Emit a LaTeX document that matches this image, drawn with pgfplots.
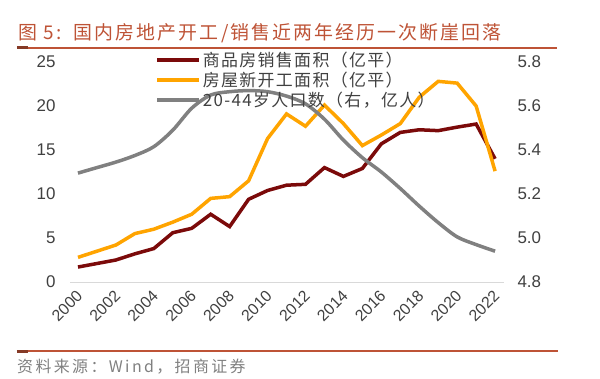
\documentclass[border=0pt]{standalone}
\usepackage{pgfplots}
\usepackage{pgfplotstable}
\pgfplotsset{compat=1.18}
\usepackage{fontspec}
\setmainfont{Liberation Sans}
\newfontfamily\cjk{Noto Sans CJK SC}
\newfontfamily\cjktitle[LetterSpace=11]{Noto Sans CJK SC}
\newfontfamily\cjkleg[LetterSpace=8]{Noto Sans CJK SC}
\newfontfamily\cjksrc[LetterSpace=15]{Noto Sans CJK SC}
\definecolor{salesc}{HTML}{7B0A0A}
\definecolor{startc}{HTML}{FFA400}
\definecolor{popc}{HTML}{808080}
\definecolor{titlec}{HTML}{BE5336}
\definecolor{tickc}{HTML}{404040}

\pgfplotstableread{
year sales starts
2000 1.7 2.8
2001 2.1 3.5
2002 2.5 4.2
2003 3.2 5.5
2004 3.8 6.0
2005 5.6 6.8
2006 6.1 7.7
2007 7.7 9.5
2008 6.3 9.7
2009 9.4 11.5
2010 10.4 16.3
2011 11.0 19.1
2012 11.1 17.7
2013 13.0 20.1
2014 12.0 18.0
2015 12.9 15.5
2016 15.7 16.7
2017 17.0 18.0
2018 17.3 21.0
2019 17.2 22.8
2020 17.6 22.6
2021 17.95 20.0
2022 14.0 12.6
}\mainT

\pgfplotstableread{
year pop
2000 5.295
2001 5.32
2002 5.345
2003 5.375
2004 5.415
2005 5.49
2006 5.59
2007 5.65
2008 5.665
2009 5.67
2010 5.665
2011 5.645
2012 5.61
2013 5.54
2014 5.445
2015 5.365
2016 5.30
2017 5.225
2018 5.145
2019 5.07
2020 5.005
2021 4.97
2022 4.94
}\popT

\pgfplotsset{
  basestyle/.style={
    scale only axis, width=434bp, height=220bp,
    at={(0bp,0bp)}, anchor=south west,
    xmin=1999.58, xmax=2022.47,
    major tick length=0pt,
    tick label style={font=\fontsize{17}{17}\selectfont, text=tickc},
    /pgf/number format/assume math mode=true,
    /pgf/number format/1000 sep={},
    clip=false,
  }
}

\begin{document}
\begin{tikzpicture}
\useasboundingbox (-70bp,-97bp) rectangle (530bp,282bp);

\begin{axis}[basestyle,
  axis x line*=bottom, x axis line style={-, draw=black!15, line width=1bp},
  axis y line*=left, y axis line style={draw=none},
  ymin=0, ymax=25, ytick={0,5,10,15,20,25},
  yticklabel style={xshift=-11bp},
  xtick={2000,2002,...,2022},
  xticklabel style={font=\fontsize{16}{16}\selectfont, xshift=4bp, yshift=-9bp, rotate=45, anchor=east},
]
\addplot[salesc, line width=3.5bp] table[x=year, y=sales] {\mainT};
\addplot[startc, line width=3.5bp] table[x=year, y=starts] {\mainT};
\end{axis}

\begin{axis}[basestyle,
  axis x line=none,
  axis y line*=right, y axis line style={draw=none},
  ymin=4.8, ymax=5.8, ytick={4.8,5.0,5.2,5.4,5.6,5.8},
  yticklabel style={xshift=10bp, /pgf/number format/.cd, fixed, fixed zerofill, precision=1},
  legend image code/.code={\draw[#1] (0bp,0bp) -- (42bp,0bp);},
  legend style={at={(0.196,1.052)}, anchor=north west, draw=none, fill=none,
    inner sep=0pt, font=\cjkleg\fontsize{17}{17}\selectfont, text=tickc,
    cells={anchor=west}, nodes={inner sep=1.5bp}, row sep=1bp},
]
\addlegendimage{salesc, line width=4bp}
\addlegendentry{商品房销售面积（亿平）}
\addlegendimage{startc, line width=4bp}
\addlegendentry{房屋新开工面积（亿平）}
\addplot[popc, line width=3.5bp, smooth, tension=0.5] table[x=year, y=pop] {\popT};
\addlegendentry{20-44岁人口数（右，亿人）}
\end{axis}

\node[anchor=west, inner sep=0pt, text=titlec, font=\cjktitle\fontsize{19}{19}\selectfont]
  at (-52bp,249bp) {图 5:\ \ 国内房地产开工/销售近两年经历一次断崖回落};
\draw[titlec, line width=1.5bp] (-53bp,234bp) -- (487bp,234bp);
\draw[titlec!70!black, line width=3bp] (-53bp,234bp) -- (-42bp,234bp);

\draw[titlec, line width=1.5bp] (-53bp,-69bp) -- (488bp,-69bp);
\draw[titlec!70!black, line width=3bp] (-53bp,-69bp) -- (-42bp,-69bp);
\node[anchor=west, inner sep=0pt, text=black!50, font=\cjksrc\fontsize{16}{16}\selectfont]
  at (-53bp,-85bp) {资料来源：Wind，招商证券};
\end{tikzpicture}
\end{document}
